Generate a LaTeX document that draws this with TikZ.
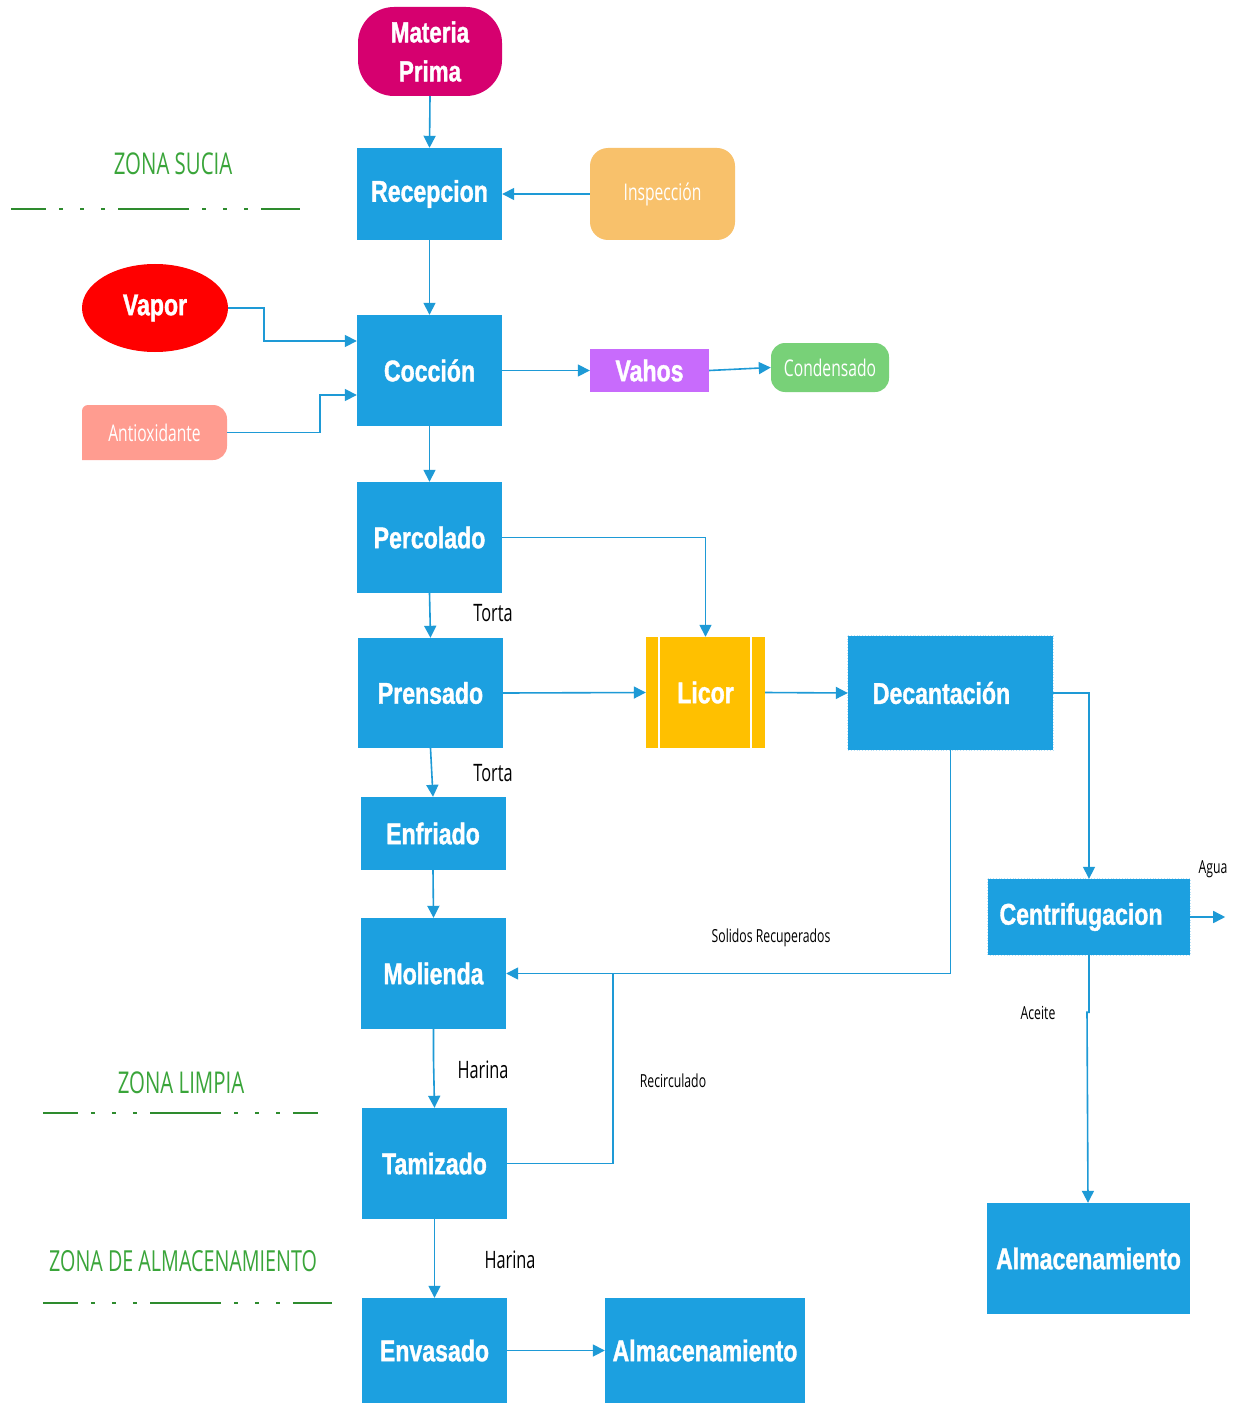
\documentclass[tikz,border=0pt]{standalone}
\usepackage{fontspec}
\setmainfont{Liberation Sans}
\newfontfamily\hfont[FakeStretch=0.77,FakeBold=1.2]{Liberation Sans}
\newfontfamily\lfont[FakeStretch=0.68]{Open Sans}
\usetikzlibrary{arrows.meta,calc,shapes.geometric}

\definecolor{procblue}{HTML}{1CA0E0}
\definecolor{connblue}{HTML}{1E9AD6}
\definecolor{magentaA}{HTML}{D6006F}
\definecolor{orangeA}{HTML}{F8C16B}
\definecolor{salmonA}{HTML}{FF9C90}
\definecolor{purpleA}{HTML}{C86BFC}
\definecolor{greenA}{HTML}{78D178}
\definecolor{yellowA}{HTML}{FFC000}
\definecolor{zonetext}{HTML}{3AA53A}
\definecolor{zoneline}{HTML}{2E8B2E}

\tikzset{
  proc/.style={fill=procblue, text=white, inner sep=0pt, minimum width=145, minimum height=111,
    font=\hfont\bfseries\fontsize{30}{32}\selectfont, align=center},
  lightbox/.style={text=white, inner sep=0pt, font=\lfont\fontsize{23}{25}\selectfont},
  conn/.style={draw=connblue, line width=1.6pt, -{Triangle[length=12pt,width=12pt]}},
  plainconn/.style={draw=connblue, line width=1.6pt},
  lbl/.style={inner sep=0pt, text=black, font=\lfont\fontsize{24}{26}\selectfont},
  slbl/.style={inner sep=0pt, text=black, font=\lfont\fontsize{18}{20}\selectfont},
  zonelbl/.style={inner sep=0pt, text=zonetext, font=\lfont\fontsize{30}{32}\selectfont},
  zoneline/.style={draw=zoneline, line width=2.2pt,
    dash pattern=on 71pt off 13pt on 4pt off 17pt on 4pt off 17pt on 4pt off 13pt, dash phase=36pt},
  dotborder/.style={draw=white!70!procblue, line width=0.8pt, dotted}
}

\begin{document}
\begin{tikzpicture}[x=1pt,y=-1pt]
\useasboundingbox (0,0) rectangle (1244,1404);
\fill[white] (0,0) rectangle (1244,1404);

% zone separators
\node[zonelbl] (zs) at (173,164) {ZONA SUCIA};
\draw[zoneline] (11,209) -- (300,209);
\node[zonelbl] (zl) at (181,1083) {ZONA LIMPIA};
\draw[zoneline] (43,1113) -- (318,1113);
\node[zonelbl, font=\lfont\fontsize{29}{31}\selectfont] (za) at (183,1261) {ZONA DE ALMACENAMIENTO};
\draw[zoneline] (43,1303) -- (332,1303);

% process steps
\node[proc, fill=magentaA, minimum width=144, minimum height=89, rounded corners=36pt,
      font=\hfont\bfseries\fontsize{29}{39}\selectfont] (mp) at (430,51.5) {Materia\\Prima};
\node[proc, minimum height=92] (rec) at (429.5,194) {Recepcion};
\node[lightbox, fill=orangeA, minimum width=145, minimum height=92, rounded corners=18pt] (insp) at (662.5,194) {Inspección};
\node[ellipse, fill=red, text=white, inner sep=0pt, minimum width=146, minimum height=88,
      font=\hfont\bfseries\fontsize{30}{32}\selectfont] (vapor) at (155,308) {Vapor};
\node[proc] (coc) at (429.5,370.5) {Cocción};
\fill[salmonA] (82,460) -- (82,411) [rounded corners=6pt] -- (82,405) [rounded corners=14pt] -- (227,405) -- (227,460) [sharp corners] -- (82,460) -- cycle;
\node[lightbox, minimum width=145, minimum height=55] (anti) at (154.5,432.5) {Antioxidante};
\node[proc, fill=purpleA, minimum width=119, minimum height=43] (vahos) at (649.5,370.5) {Vahos};
\node[lightbox, fill=greenA, minimum width=118, minimum height=49, rounded corners=14pt] (cond) at (830,367.5) {Condensado};
\node[proc] (perc) at (429.5,537.5) {Percolado};
\node[proc, minimum height=110] (pren) at (430.5,693) {Prensado};
\node[proc, fill=yellowA, minimum width=119] (licor) at (705.5,692.5) {Licor};
\draw[white, line width=2pt] ($(licor.north west)+(13,0)$) -- ($(licor.south west)+(13,0)$);
\draw[white, line width=2pt] ($(licor.north east)+(-14,0)$) -- ($(licor.south east)+(-14,0)$);
\node[proc, minimum width=205, minimum height=114] (dec) at (950.5,693) {Decantación\hspace*{18pt}};
\draw[dotborder] (dec.north west) rectangle (dec.south east);
\node[proc, minimum height=73] (enf) at (433,833.5) {Enfriado};
\node[proc, minimum width=202, minimum height=76] (cent) at (1089,917) {Centrifugacion\hspace*{16pt}};
\draw[dotborder] (cent.north west) rectangle (cent.south east);
\node[proc] (mol) at (433.5,973.5) {Molienda};
\node[proc] (tam) at (434.5,1163.5) {Tamizado};
\node[proc, minimum width=203] (alm1) at (1088.5,1258.5) {Almacenamiento};
\node[proc, minimum height=105] (env) at (434.5,1350.5) {Envasado};
\node[proc, minimum width=200, minimum height=105] (alm2) at (705,1350.5) {Almacenamiento};

% connectors
\draw[conn] (mp.south) -- (rec.north);
\draw[conn] (insp.west) -- (rec.east);
\draw[conn] (rec.south) -- (coc.north);
\draw[conn] (vapor.east) -- ++(36,0) |- ($(coc.west)+(0,-29.5)$);
\draw[conn] (anti.east) -- ++(93,0) |- ($(coc.west)+(0,24.5)$);
\draw[conn] (coc.east) -- (vahos.west);
\draw[conn] (vahos.east) -- (cond.west);
\draw[conn] (coc.south) -- (perc.north);
\draw[conn] (perc.east) -| (licor.north);
\draw[conn] (perc.south) -- (pren.north);
\draw[conn] (pren.east) -- (licor.west);
\draw[conn] (licor.east) -- (dec.west);
\draw[conn] (dec.east) -| (cent.north);
\draw[conn] (pren.south) -- (enf.north);
\draw[conn] (enf.south) -- (mol.north);
\draw[conn] (dec.south) |- (mol.east);
\draw[conn] (mol.south) -- ++(0,30) -- (tam.north);
\draw[plainconn] (tam.east) -| ($(mol.east)+(107,0)$);
\draw[conn] (tam.south) -- (env.north);
\draw[conn] (env.east) -- (alm2.west);
\coordinate (aguaend) at ($(cent.east)+(35,0)$);
\draw[conn] (cent.east) -- (aguaend);
\draw[conn] (cent.south) -- ++(0,57) -- ++(-2,0) -- ($(alm1.north)+(-0.5,0)$);

% flow labels
\node[lbl] (t1) at (493,613) {Torta};
\node[lbl] (t2) at (493,773) {Torta};
\node[lbl] (h1) at (483,1070) {Harina};
\node[lbl] (h2) at (510,1260) {Harina};
\node[slbl] (sr) at (771,938) {Solidos Recuperados};
\node[slbl] (rc) at (673,1081) {Recirculado};
\node[slbl] (ag) at (1213,869) {Agua};
\node[slbl] (ac) at (1038,1013) {Aceite};
\end{tikzpicture}
\end{document}
